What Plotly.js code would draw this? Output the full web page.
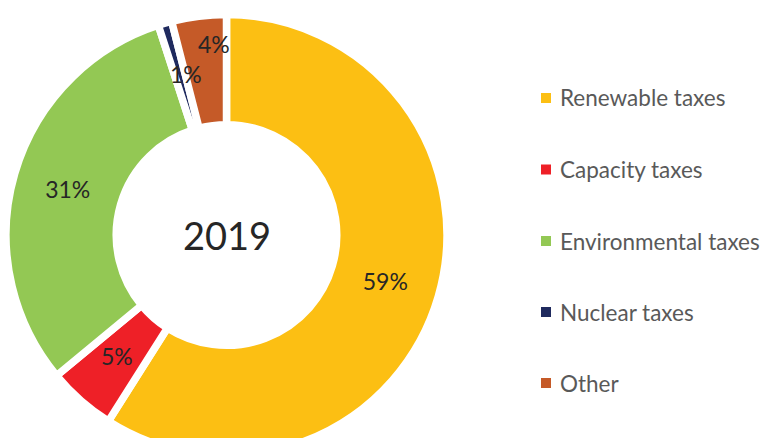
<!DOCTYPE html>
<html>
<head>
<meta charset="utf-8">
<script src="https://cdn.plot.ly/plotly-3.0.1.min.js"></script>
<style>
html,body{margin:0;padding:0;overflow:hidden;background:#fff;width:760px;height:438px;}
#chart{width:760px;height:470px;}
</style>
</head>
<body>
<div id="chart"></div>
<script>
var categories = ["Renewable taxes", "Capacity taxes", "Environmental taxes", "Nuclear taxes", "Other"];
var shares = [59, 5, 31, 1, 4];
var colors = ["#FCBF13", "#EE2027", "#93C854", "#1F2A5E", "#C55A28"];
var centerLabel = "2019";

var W = 760, H = 470;
function px(x){return x / W;}
function py(y){return (H - y) / H;}

// labels drawn by plotly inside the large slices; small ones as annotations
var insideText = shares.map(function(v){ return v > 5 ? v + "%" : ""; });
var labelFont = {family: "Lato, 'Open Sans', sans-serif", size: 23, color: "#262626"};

var trace = {
  type: "pie",
  labels: categories,
  values: shares,
  text: insideText,
  textinfo: "text",
  textposition: "inside",
  insidetextorientation: "horizontal",
  textfont: labelFont,
  hole: 0.5,
  sort: false,
  direction: "clockwise",
  rotation: 0,
  marker: {colors: colors, line: {color: "#ffffff", width: 7.5}},
  domain: {x: [px(6), px(447)], y: [py(455.5), py(14.5)]},
  showlegend: false,
  hoverinfo: "label+percent"
};

var annotations = [
  {x: px(226.5), y: py(235), xref: "paper", yref: "paper", text: centerLabel, showarrow: false,
   font: {family: "Lato, sans-serif", size: 38, color: "#262626"}, xanchor: "center", yanchor: "middle"},
  {x: px(214), y: py(44), xref: "paper", yref: "paper", text: shares[4] + "%", showarrow: false,
   font: labelFont, xanchor: "center", yanchor: "middle"},
  {x: px(186), y: py(74), xref: "paper", yref: "paper", text: shares[3] + "%", showarrow: false,
   font: labelFont, xanchor: "center", yanchor: "middle"},
  {x: px(117), y: py(356), xref: "paper", yref: "paper", text: shares[1] + "%", showarrow: false,
   font: labelFont, xanchor: "center", yanchor: "middle"}
];

var shapes = [];
var legendY = [98, 169.5, 241, 312, 383];
categories.forEach(function(c, i){
  var yc = legendY[i];
  shapes.push({type: "rect", xref: "paper", yref: "paper",
    x0: px(541), x1: px(551), y0: py(yc + 5), y1: py(yc - 5),
    fillcolor: colors[i], line: {width: 0}});
  annotations.push({x: px(558), y: py(yc), xref: "paper", yref: "paper", text: c, showarrow: false,
    xanchor: "left", yanchor: "middle",
    font: {family: "Lato, sans-serif", size: 22.5, color: "#595959"}});
});

var layout = {
  width: W, height: H,
  margin: {l: 0, r: 0, t: 0, b: 0},
  paper_bgcolor: "#ffffff",
  plot_bgcolor: "#ffffff",
  showlegend: false,
  annotations: annotations,
  shapes: shapes
};

Plotly.newPlot("chart", [trace], layout, {displayModeBar: false, staticPlot: true});
</script>
</body>
</html>
